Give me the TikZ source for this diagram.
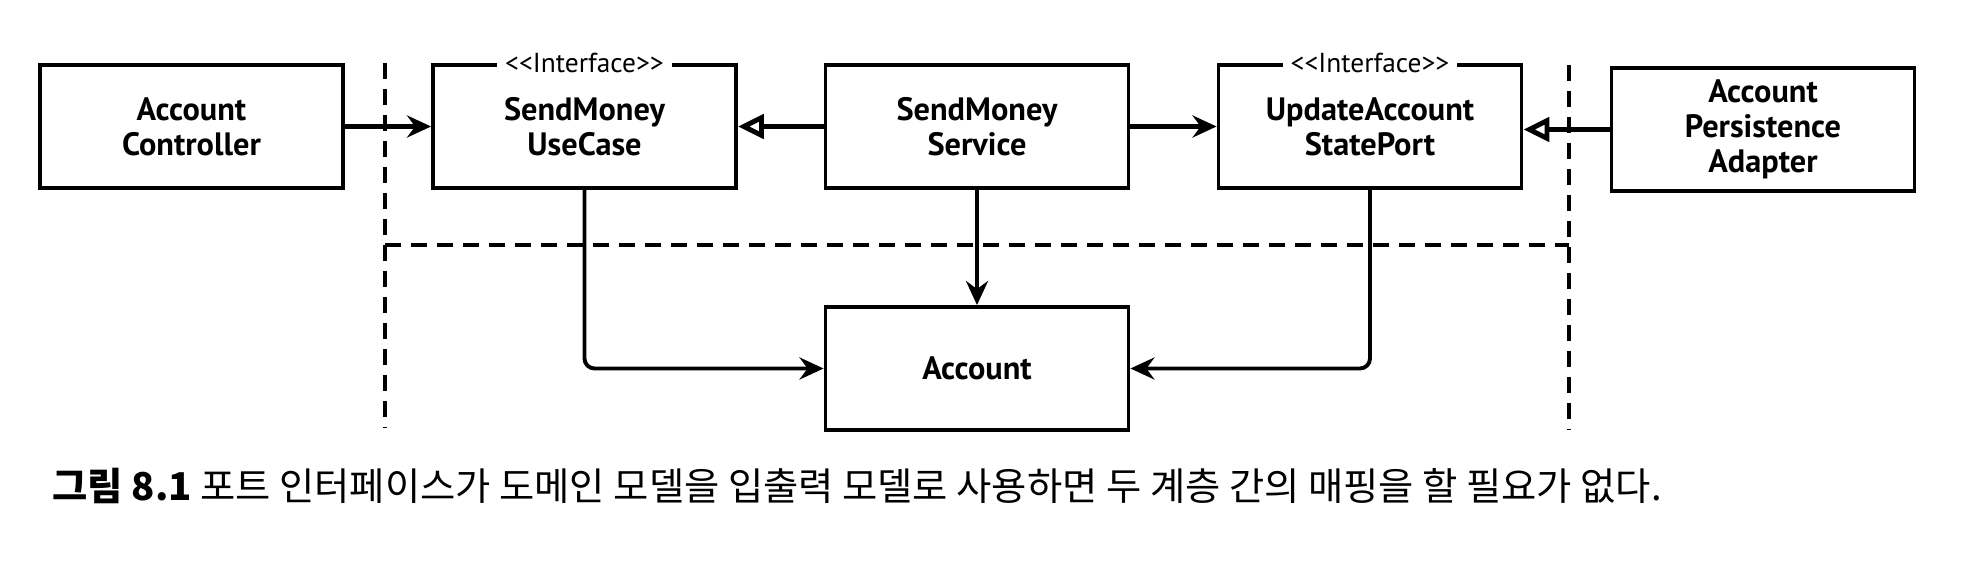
\documentclass[tikz,border=0pt]{standalone}
\usepackage{fontspec}
\setmainfont{PT Sans}
\newfontfamily\cjk{Noto Sans CJK KR}
\usetikzlibrary{calc,positioning}
\usetikzlibrary{arrows.meta}

\begin{document}
\begin{tikzpicture}[text=black,
  box/.style={rectangle,draw,line width=1.1pt,minimum width=3.03cm,
    minimum height=1.23cm,align=center,
    font=\fontsize{9.2}{10}\selectfont\bfseries},
  stereo/.style={fill=white,inner xsep=0.8mm,inner ysep=0.3mm,
    font=\fontsize{7.8}{8}\selectfont},
  uses/.style={line width=1.4pt,-{Stealth[length=2.4mm,width=2.2mm,inset=0.8mm]}},
  realizes/.style={line width=1.4pt,-{Triangle[open,length=2.6mm,width=2.4mm]}},
  boundary/.style={line width=1.4pt,dash pattern=on 1.6mm off 1mm}]

  \useasboundingbox (0,0) rectangle (19.74,-5.72);

  % layer boundary
  \draw[boundary] (3.85,-0.63) -- (3.85,-4.28);
  \draw[boundary] (15.69,-0.65) -- (15.69,-4.30);
  \draw[boundary] (3.85,-2.45) -- (15.69,-2.45);

  \node (ctrl) at (1.915,-1.265) [box] {Account\\Controller};
  \node (usecase) at ($(ctrl)+(3.93,0)$) [box] {SendMoney\\UseCase};
  \node (service) at ($(usecase)+(3.925,0)$) [box] {SendMoney\\Service};
  \node (port) at ($(service)+(3.93,0)$) [box] {UpdateAccount\\StatePort};
  \node (adapter) at ($(port)+(3.93,-0.03)$) [box] {Account\\Persistence\\Adapter};
  \node (account) at ($(service)+(0,-2.42)$) [box] {Account};

  \node (ucstereo) at (usecase.north) [stereo]
        {<\kern0pt<Interface>\kern0pt>};
  \node (portstereo) at (port.north) [stereo]
        {<\kern0pt<Interface>\kern0pt>};

  \draw[uses] (ctrl) -- (usecase);
  \draw[realizes] (service) -- (usecase);
  \draw[uses] (service) -- (port);
  \draw[realizes] (adapter.west) -- (adapter.west -| port.east);
  \draw[uses] (service) -- (account);
  \draw[uses,line width=1.1pt,rounded corners=1mm] (usecase.south) |- (account.west);
  \draw[uses,line width=1.1pt,rounded corners=1mm] (port.south) |- (account.east);

  \node (caption) at (0.40,-4.86) [anchor=west,font=\cjk\fontsize{10.9}{12}\selectfont]
        {{\bfseries 그림 8.1} 포트 인터페이스가 도메인 모델을 입출력 모델로 사용하면 두 계층 간의 매핑을 할 필요가 없다.};

\end{tikzpicture}
\end{document}
